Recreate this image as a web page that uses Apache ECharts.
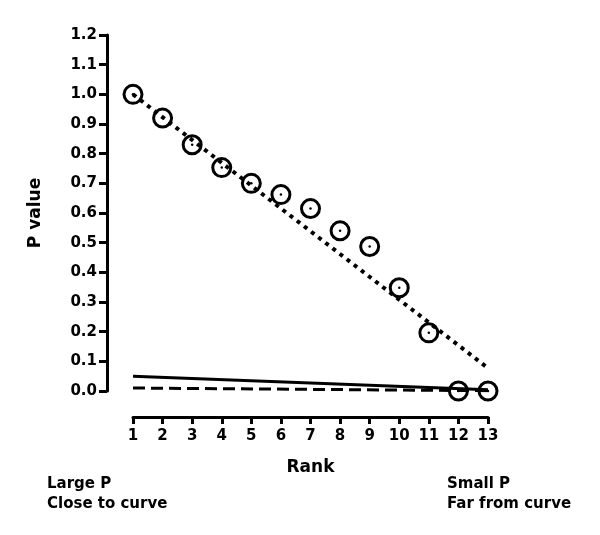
<!DOCTYPE html>
<html>
<head>
<meta charset="utf-8">
<script src="https://cdn.jsdelivr.net/npm/echarts@6/dist/echarts.min.js"></script>
<style>html,body{margin:0;padding:0;background:#fff}#c{width:600px;height:535px}</style>
</head>
<body>
<div id="c"></div>
<script>
var ranks = [1, 2, 3, 4, 5, 6, 7, 8, 9, 10, 11, 12, 13];
var pValues = [1.0, 0.92, 0.83, 0.753, 0.70, 0.662, 0.615, 0.54, 0.487, 0.348, 0.196, 0.0, 0.0];
var dottedLine = [[1, 1.0], [13, 0.077]];
var solidLine = [[1, 0.05], [13, 0.004]];
var dashedLine = [[1, 0.01], [13, 0.001]];
var yTicks = ['0.0','0.1','0.2','0.3','0.4','0.5','0.6','0.7','0.8','0.9','1.0','1.1','1.2'];

var FONT = 'DejaVu Sans';
var pts = ranks.map(function (r, i) { return [r, pValues[i]]; });

var chart = echarts.init(document.getElementById('c'), null, {renderer: 'canvas'});
chart.setOption({
  animation: false,
  backgroundColor: '#fff',
  grid: {left: 133, right: 112, top: 35, bottom: 144},
  xAxis: {
    type: 'value', min: 1, max: 13, interval: 1, offset: 26,
    name: 'Rank', nameLocation: 'middle', nameGap: 42,
    nameTextStyle: {fontFamily: FONT, fontWeight: 'bold', fontSize: 17, color: '#000'},
    axisLine: {show: true, onZero: false, lineStyle: {color: '#000', width: 3}},
    axisTick: {show: true, inside: false, length: 7, lineStyle: {color: '#000', width: 3}},
    axisLabel: {margin: 12, fontFamily: FONT, fontWeight: 'bold', fontSize: 15, color: '#000'},
    splitLine: {show: false}
  },
  yAxis: {
    type: 'value', min: 0, max: 1.2, interval: 0.1, offset: 26,
    axisLine: {show: true, onZero: false, lineStyle: {color: '#000', width: 3}},
    axisTick: {show: true, inside: false, length: 8, lineStyle: {color: '#000', width: 3}},
    axisLabel: {margin: 10, fontFamily: FONT, fontWeight: 'bold', fontSize: 15, color: '#000',
      formatter: function (v) { return yTicks[Math.round(v * 10)]; }},
    splitLine: {show: false}
  },
  graphic: [
    {type: 'text', x: 36, y: 213, rotation: Math.PI / 2,
      style: {text: 'P value', fontFamily: FONT, fontWeight: 'bold', fontSize: 17, fill: '#000', align: 'center', verticalAlign: 'middle'}},
    {type: 'text', x: 47, y: 474,
      style: {text: 'Large P\nClose to curve', fontFamily: FONT, fontWeight: 'bold', fontSize: 15, lineHeight: 20, fill: '#000', align: 'left', verticalAlign: 'top'}},
    {type: 'text', x: 447, y: 474,
      style: {text: 'Small P\nFar from curve', fontFamily: FONT, fontWeight: 'bold', fontSize: 15, lineHeight: 20, fill: '#000', align: 'left', verticalAlign: 'top'}}
  ],
  series: [
    {type: 'line', data: dottedLine, showSymbol: false, silent: true,
      lineStyle: {color: '#000', width: 4, type: [4, 5]}},
    {type: 'line', data: solidLine, showSymbol: false, silent: true,
      lineStyle: {color: '#000', width: 3}},
    {type: 'line', data: dashedLine, showSymbol: false, silent: true,
      lineStyle: {color: '#000', width: 3, type: [12, 6]}},
    {type: 'scatter', data: pts, symbol: 'circle', symbolSize: 18, silent: true,
      itemStyle: {color: 'rgba(255,255,255,0)', borderColor: '#000', borderWidth: 3, opacity: 1}},
    {type: 'scatter', data: pts, symbol: 'circle', symbolSize: 2.5, silent: true,
      itemStyle: {color: '#000', opacity: 1}}
  ]
});
</script>
</body>
</html>
